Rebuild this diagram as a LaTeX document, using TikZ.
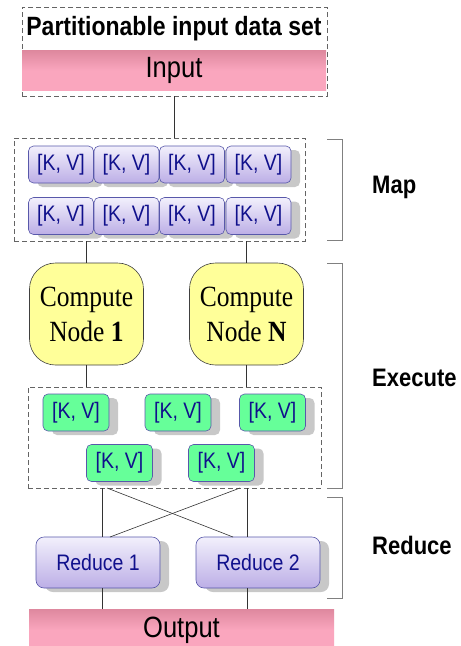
\documentclass[tikz,border=0pt]{standalone}
\usepackage{fontspec}
\usepackage{graphicx}
\setmainfont{Liberation Sans}
\newfontfamily\seriff{Liberation Serif}
\usetikzlibrary{shadows}
\newcommand\vstr[1]{\scalebox{1}[1.15]{#1}}
\definecolor{pinkA}{RGB}{222,136,158}
\definecolor{pinkB}{RGB}{250,166,190}
\definecolor{lavT}{RGB}{242,240,252}
\definecolor{lavB}{RGB}{188,174,230}
\definecolor{lavD}{RGB}{88,88,170}
\definecolor{txtblue}{RGB}{16,16,140}
\definecolor{greenF}{RGB}{102,255,153}
\definecolor{yel}{RGB}{255,255,153}
\definecolor{shad}{RGB}{200,200,200}
\definecolor{dashc}{RGB}{100,100,100}
\definecolor{brk}{RGB}{128,128,128}
\tikzset{
  dbox/.style={draw=dashc, dash pattern=on 5pt off 3pt, line width=0.7pt, inner sep=0pt},
  pinkbar/.style={top color=pinkA, bottom color=pinkB, middle color=pinkB, inner sep=0pt, font=\fontsize{25.5}{28}\selectfont},
  shad/.style={drop shadow={shadow xshift=9pt, shadow yshift=-4pt, fill=shad, opacity=1}},
  kvmap/.style={shad, rounded corners=5pt, draw=lavD, line width=0.6pt, top color=lavT, bottom color=lavB,
    text=txtblue, font=\fontsize{19.5}{21}\selectfont, minimum width=65pt, minimum height=37pt, inner sep=0pt},
  kvgreen/.style={shad, rounded corners=5pt, draw=lavD, line width=0.6pt, fill=greenF,
    text=txtblue, font=\fontsize{19.5}{21}\selectfont, minimum width=66pt, minimum height=37pt, inner sep=0pt},
  reducebox/.style={shad, rounded corners=8pt, draw=lavD, line width=0.6pt, top color=lavT, bottom color=lavB,
    text=txtblue, font=\fontsize{19.5}{21}\selectfont, minimum width=124pt, minimum height=51pt, inner sep=0pt},
  computebox/.style={rounded corners=26pt, draw=black!75, line width=0.6pt, fill=yel, align=center,
    font=\seriff\fontsize{25.5}{35}\selectfont, minimum width=114pt, minimum height=102pt, inner sep=0pt},
  conn/.style={draw=black!80, line width=0.6pt},
  brack/.style={draw=brk, line width=0.8pt},
  phase/.style={anchor=west, font=\bfseries\fontsize{22}{24}\selectfont, inner sep=0pt}
}
\begin{document}
\begin{tikzpicture}[x=1pt,y=-1pt]
\useasboundingbox[fill=white] (0,0) rectangle (461,646);
% input
\node[dbox, minimum width=305pt, minimum height=89pt] (inbox) at (174.5,51.5) {};
\node[font=\bfseries\fontsize{23}{25}\selectfont, inner sep=0pt] (title) at (174,29) {\vstr{Partitionable input data set}};
\node[pinkbar, minimum width=304pt, minimum height=40pt] (input) at (174,70.5) {\vstr{Input}};
% map
\node[dbox, minimum width=291pt, minimum height=103pt] (mapbox) at (159.5,189.5) {};
\node[kvmap] (m11) at (61,164.5) {\vstr{[K, V]}};
\node[kvmap] (m12) at (126.5,164.5) {\vstr{[K, V]}};
\node[kvmap] (m13) at (192,164.5) {\vstr{[K, V]}};
\node[kvmap] (m14) at (258.5,164.5) {\vstr{[K, V]}};
\node[kvmap] (m21) at (61,216) {\vstr{[K, V]}};
\node[kvmap] (m22) at (126.5,216) {\vstr{[K, V]}};
\node[kvmap] (m23) at (192,216) {\vstr{[K, V]}};
\node[kvmap] (m24) at (258.5,216) {\vstr{[K, V]}};
% compute
\node[computebox] (cn1) at (86.5,314) {\vstr{Compute}\\\vstr{Node \textbf{1}}};
\node[computebox] (cnN) at (246.5,314) {\vstr{Compute}\\\vstr{Node \textbf{N}}};
% execute
\node[dbox, minimum width=293pt, minimum height=101pt] (exec) at (174.5,437.5) {};
\node[kvgreen] (g1) at (76,412.5) {\vstr{[K, V]}};
\node[kvgreen] (g2) at (178,412.5) {\vstr{[K, V]}};
\node[kvgreen] (g3) at (272.5,412.5) {\vstr{[K, V]}};
\node[kvgreen] (g4) at (119.5,463) {\vstr{[K, V]}};
\node[kvgreen] (g5) at (221.5,463) {\vstr{[K, V]}};
% reduce
\node[reducebox] (red1) at (98,562.5) {\vstr{Reduce 1}};
\node[reducebox] (red2) at (258,562.5) {\vstr{Reduce 2}};
% output
\node[pinkbar, minimum width=305pt, minimum height=42pt] (output) at (181.5,630) {\vstr{Output}};
% connector coordinates
\coordinate (v1) at (102,0);
\coordinate (v2) at (247,0);
\coordinate (d1s) at (107,488);
\coordinate (d1e) at (233,537);
\coordinate (d2s) at (240,488);
\coordinate (d2e) at (110,537);
% connectors
\draw[conn] (inbox.south) -- (mapbox.north -| inbox.south);
\draw[conn] (mapbox.south -| cn1.north) -- (cn1.north);
\draw[conn] (mapbox.south -| cnN.north) -- (cnN.north);
\draw[conn] (cn1.south) -- (exec.north -| cn1.south);
\draw[conn] (cnN.south) -- (exec.north -| cnN.south);
\draw[conn] (exec.south -| v1) -- (red1.north -| v1);
\draw[conn] (exec.south -| v2) -- (red2.north -| v2);
\draw[conn] (d1s) -- (d1e);
\draw[conn] (d2s) -- (d2e);
\draw[conn] (red1.south -| v1) -- (output.north -| v1);
\draw[conn] (red2.south -| v2) -- (output.north -| v2);
% brackets
\draw[brack] (327,139) -- (342,139) -- (342,240) -- (327,240);
\draw[brack] (327,263) -- (342,263) -- (342,488) -- (327,488);
\draw[brack] (327,497) -- (342,497) -- (342,598) -- (327,598);
\node[phase] (lmap) at (372,187) {\vstr{Map}};
\node[phase] (lexec) at (372,378) {\vstr{Execute}};
\node[phase] (lred) at (372,545) {\vstr{Reduce}};
\end{tikzpicture}
\end{document}
